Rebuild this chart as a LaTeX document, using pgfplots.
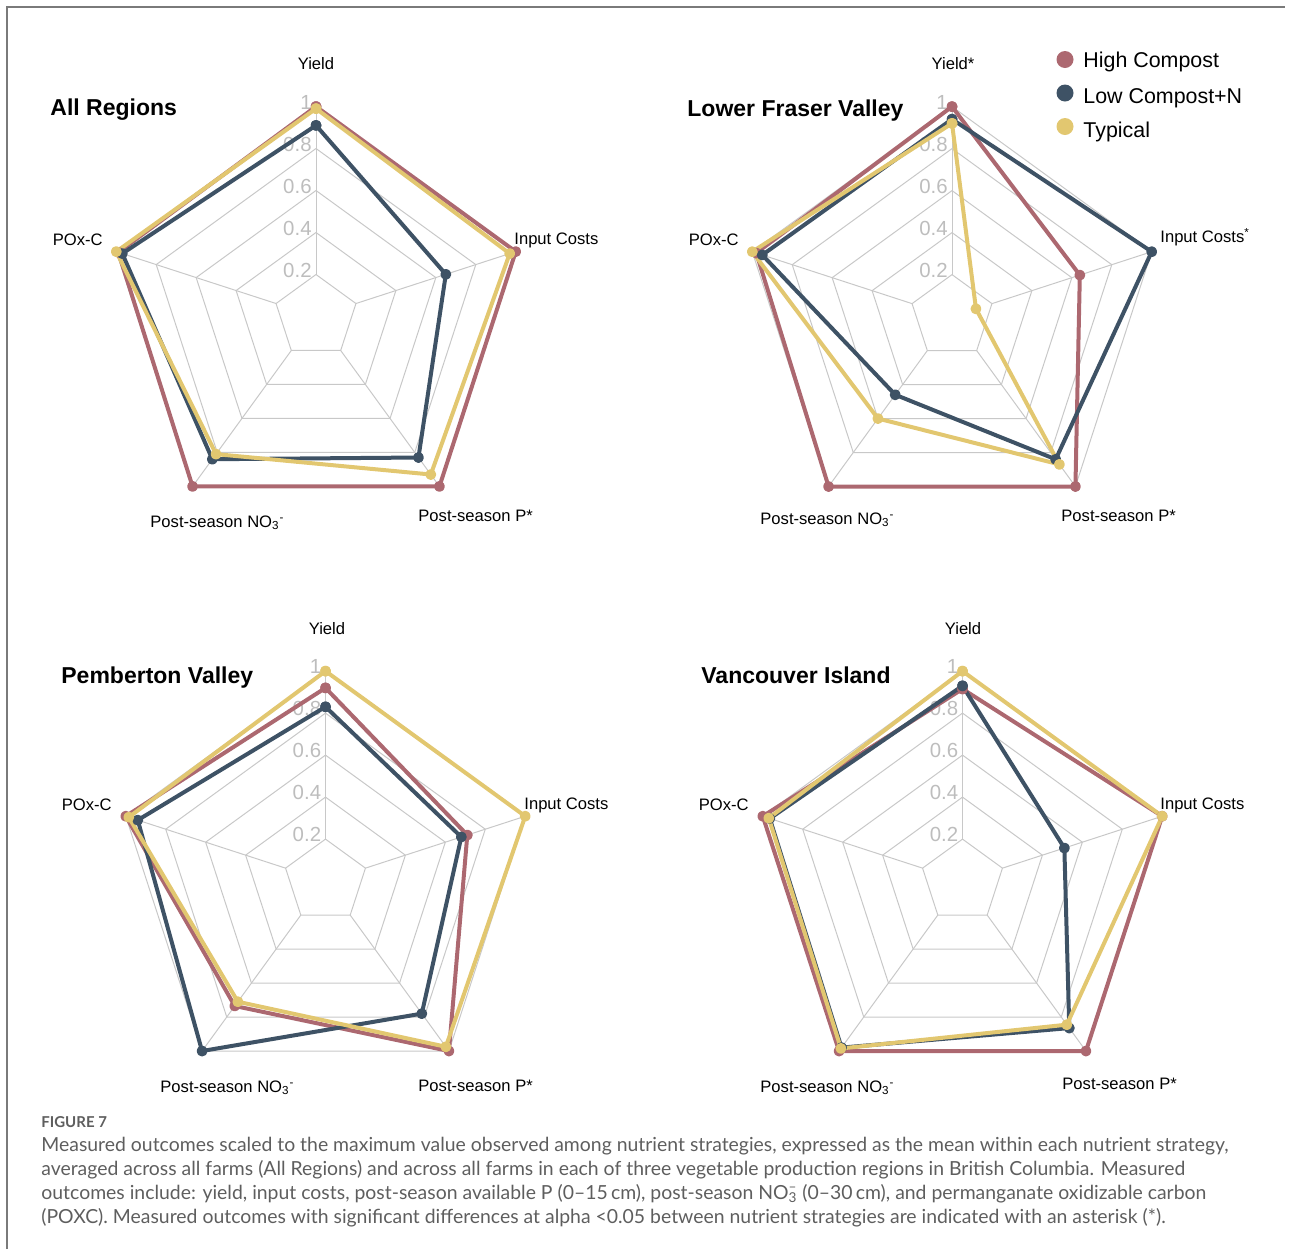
\documentclass[border=0pt]{standalone}
\usepackage{fontspec}
\setmainfont{Liberation Sans}
\newfontfamily\capfont{Lato}
\usepackage{pgfplots}
\usepackage{pgfplotstable}
\pgfplotsset{compat=1.18}

\definecolor{hc}{HTML}{AC6870}
\definecolor{lcn}{HTML}{3E5265}
\definecolor{typ}{HTML}{E2C770}
\definecolor{gridc}{HTML}{C8C8C8}
\definecolor{tickc}{HTML}{BDBDBD}
\definecolor{capc}{HTML}{5E5E5E}
\definecolor{framec}{HTML}{7A7A7A}

% scaled outcomes per strategy; angle gives the spoke of each outcome
% (Yield, Input Costs, Post-season P, Post-season NO3, POx-C, closing Yield)
\pgfplotstableread{
angle hc   lcn  typ
90    1.00 0.91 0.99
18    1.00 0.65 0.97
-54   1.00 0.83 0.93
-126  1.00 0.84 0.81
162   0.99 0.97 1.00
90    1.00 0.91 0.99
}\allregions
\pgfplotstableread{
angle hc   lcn  typ
90    1.00 0.94 0.92
18    0.64 1.00 0.12
-54   1.00 0.84 0.87
-126  1.00 0.46 0.60
162   0.98 0.95 1.00
90    1.00 0.94 0.92
}\fraser
\pgfplotstableread{
angle hc    lcn  typ
90    0.92  0.83 1.00
18    0.71  0.68 1.00
-54   1.00  0.78 0.975
-126  0.735 1.00 0.71
162   1.00  0.94 0.985
90    0.92  0.83 1.00
}\pemberton
\pgfplotstableread{
angle hc    lcn   typ
90    0.915 0.93  1.00
18    1.00  0.51  1.00
-54   1.00  0.865 0.845
-126  1.00  0.98  0.985
162   1.00  0.965 0.97
90    0.915 0.93  1.00
}\vancouver

\pgfplotsset{
  radar/.style={
    x=105pt, y=105pt,
    xmin=-1, xmax=1, ymin=-1, ymax=1,
    anchor=center, hide axis, clip=false,
  },
  gridline/.style={gridc, line width=0.5pt, mark=none, forget plot},
  series/.style={line width=2pt, line join=round, mark=*, mark size=1.7pt,
    mark options={solid}, data cs=polar},
}

\newcommand\ticklab{\fontsize{10.2}{12}\selectfont}
\newcommand\radargrid{%
  \pgfplotsinvokeforeach{0.2,0.4,0.6,0.8,1}{%
    \addplot[gridline, data cs=polar] coordinates
      {(90,##1) (18,##1) (-54,##1) (-126,##1) (162,##1) (90,##1)};
  }%
  \pgfplotsinvokeforeach{90,18,-54,-126,162}{%
    \addplot[gridline, data cs=polar] coordinates {(##1,0.2) (##1,1)};
  }%
  \pgfplotsinvokeforeach{0.2,0.4,0.6,0.8,1}{%
    \node[anchor=east, text=tickc, font=\ticklab, inner sep=0pt,
      xshift=-2pt, yshift=2.2pt] at (axis cs:0,##1) {##1};
  }%
}
\newcommand\radarseries[1]{%
  \addplot[series, hc]  table[x=angle, y=hc]  {#1};
  \addplot[series, lcn] table[x=angle, y=lcn] {#1};
  \addplot[series, typ] table[x=angle, y=typ] {#1};
}

\newcommand\lab{\fontsize{8.3}{10}\selectfont}
\newcommand\ttl{\fontsize{11.5}{13}\selectfont\bfseries}
\newcommand\nothree{NO\textsubscript{3}\textsuperscript{-}}

\begin{document}
\begin{tikzpicture}[x=0.5pt,y=-0.5pt]
\useasboundingbox (0,0) rectangle (1290,1249);
\draw[framec, line width=0.7pt] (7,1249) -- (7,7) -- (1285,7);

% All Regions
\begin{axis}[radar, at={(158pt,-158.25pt)}]
  \radargrid
  \radarseries{\allregions}
\end{axis}
% Lower Fraser Valley
\begin{axis}[radar, at={(476pt,-158.3pt)}]
  \radargrid
  \radarseries{\fraser}
\end{axis}
% Pemberton Valley
\begin{axis}[radar, at={(162.75pt,-440.55pt)}]
  \radargrid
  \radarseries{\pemberton}
\end{axis}
% Vancouver Island
\begin{axis}[radar, at={(481.25pt,-440.55pt)}]
  \radargrid
  \radarseries{\vancouver}
\end{axis}

% outcome labels
\begin{scope}[every node/.style={font=\lab, inner sep=0pt}]
  \node[anchor=base] at (316,69) {Yield};
  \node[anchor=base west] at (514,244) {Input Costs};
  \node[anchor=base east] at (103,245) {POx-C};
  \node[anchor=base west] at (418,521) {Post-season P*};
  \node[anchor=base west] at (150,527) {Post-season \nothree};

  \node[anchor=base] at (953,69) {Yield*};
  \node[anchor=base west] at (1160,242) {Input Costs\textsuperscript{*}};
  \node[anchor=base east] at (739,245) {POx-C};
  \node[anchor=base west] at (1061,521) {Post-season P*};
  \node[anchor=base west] at (760,524) {Post-season \nothree};

  \node[anchor=base] at (327,634) {Yield};
  \node[anchor=base west] at (524,809) {Input Costs};
  \node[anchor=base east] at (112,810) {POx-C};
  \node[anchor=base west] at (418,1091) {Post-season P*};
  \node[anchor=base west] at (160,1092) {Post-season \nothree};

  \node[anchor=base] at (963,634) {Yield};
  \node[anchor=base west] at (1160,809) {Input Costs};
  \node[anchor=base east] at (749,810) {POx-C};
  \node[anchor=base west] at (1062,1089) {Post-season P*};
  \node[anchor=base west] at (760,1092) {Post-season \nothree};
\end{scope}

% panel titles
\begin{scope}[every node/.style={font=\ttl, inner sep=0pt, anchor=base west}]
  \node at (50,115) {All Regions};
  \node at (687,116) {Lower Fraser Valley};
  \node at (61,683) {Pemberton Valley};
  \node at (701,683) {Vancouver Island};
\end{scope}

% legend
\fill[hc]  (1065,59.5) circle[radius=4.25pt];
\fill[lcn] (1065,93)   circle[radius=4.25pt];
\fill[typ] (1065,126.5) circle[radius=4.25pt];
\begin{scope}[every node/.style={font=\fontsize{10.7}{12}\selectfont, inner sep=0pt, anchor=base west}]
  \node at (1083,67.5) {High Compost};
  \node at (1083,103.5) {Low Compost+N};
  \node at (1083,137) {Typical};
\end{scope}

% caption
\node[anchor=base west, inner sep=0pt, text=capc, font=\capfont\fontsize{7.5}{9}\selectfont\bfseries]
  at (41,1127) {FIGURE 7};
\begin{scope}[every node/.style={anchor=base west, inner sep=0pt, text=capc,
  font=\capfont\fontsize{9.7}{12}\selectfont}]
  \node at (41,1151) {Measured outcomes scaled to the maximum value observed among nutrient strategies, expressed as the mean within each nutrient strategy,};
  \node at (41,1175) {averaged across all farms (All Regions) and across all farms in each of three vegetable production regions in British Columbia. Measured};
  \node at (41,1199) {outcomes include: yield, input costs, post-season available P (0–15\,cm), post-season NO\rlap{\textsuperscript{–}}\textsubscript{3} (0–30\,cm), and permanganate oxidizable carbon};
  \node at (41,1223) {(POXC). Measured outcomes with significant differences at alpha <0.05 between nutrient strategies are indicated with an asterisk (*).};
\end{scope}
\end{tikzpicture}
\end{document}
